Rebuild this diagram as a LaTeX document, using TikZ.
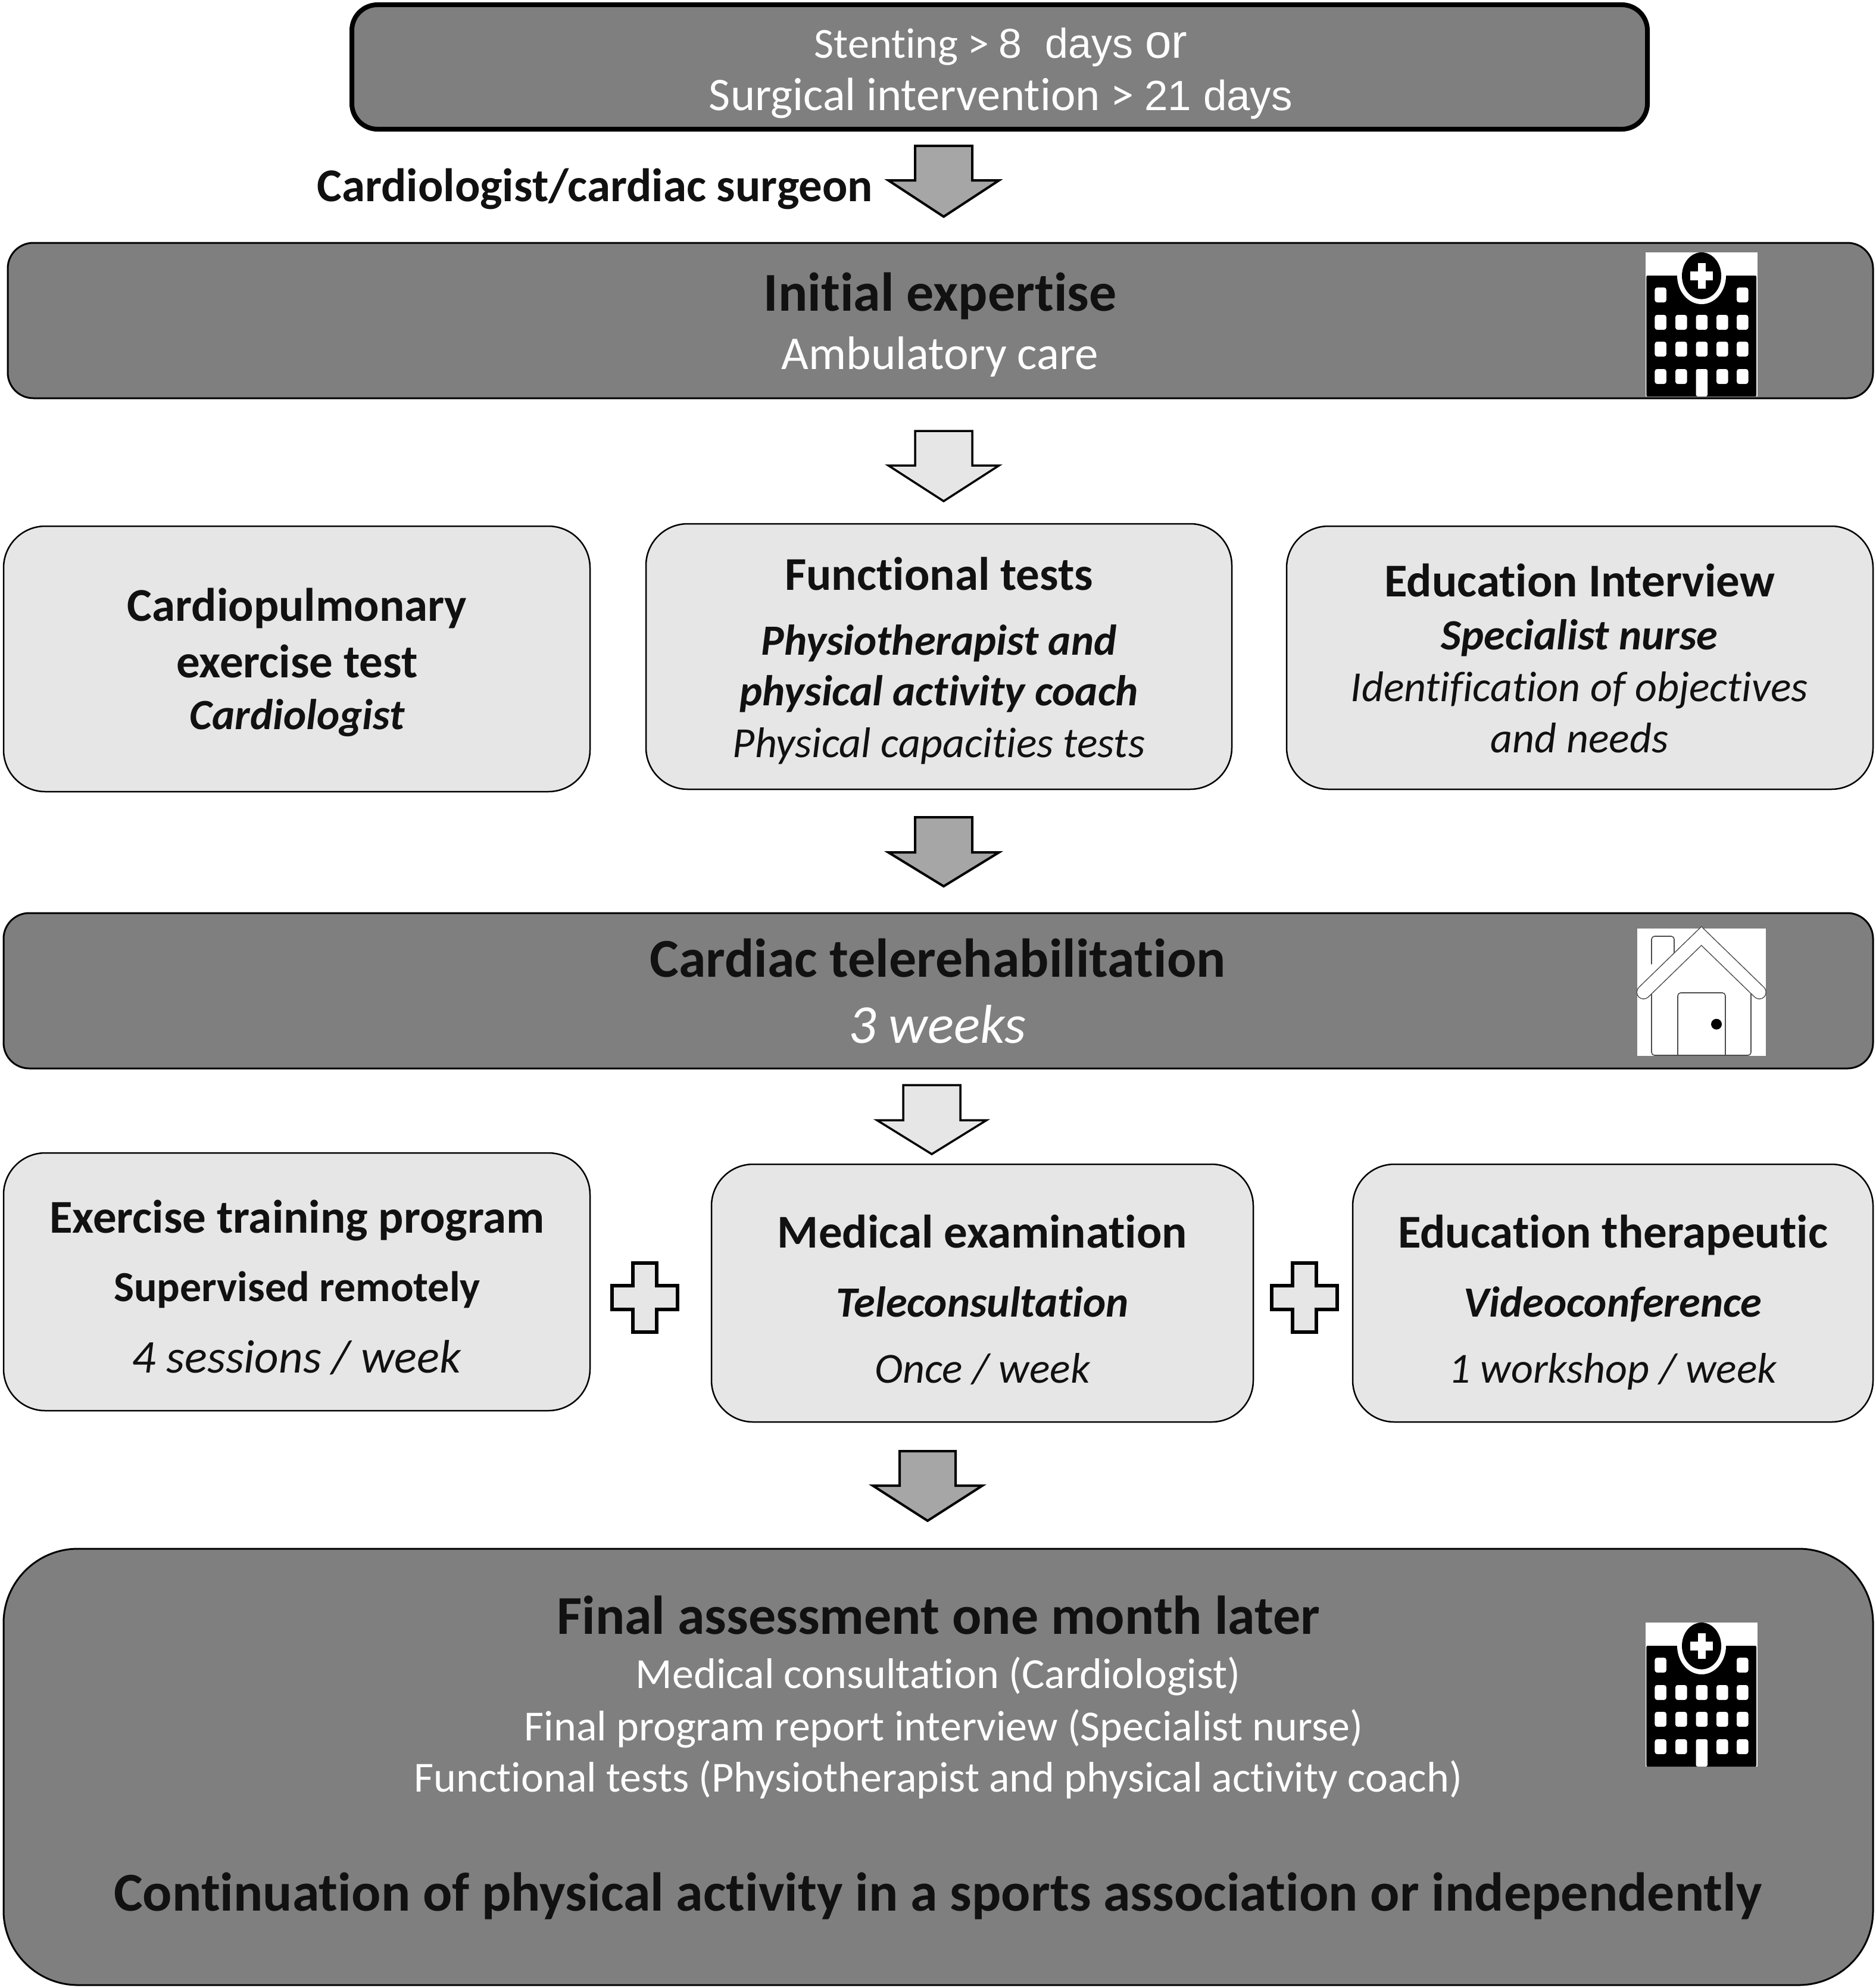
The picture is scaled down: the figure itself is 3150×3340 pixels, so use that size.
\documentclass[tikz,border=0pt]{standalone}
\usepackage{fontspec}
\setmainfont{Carlito}[Ligatures={NoCommon}]
\newfontfamily\arialf{Liberation Sans}
\definecolor{bandgray}{HTML}{7F7F7F}
\definecolor{lightgray}{HTML}{E6E6E6}
\definecolor{arrowgray}{HTML}{A6A6A6}
\definecolor{inkdark}{HTML}{111111}
\newcommand\fsz[1]{\fontsize{#1}{#1}\selectfont}
\tikzset{
  band/.style={draw=black,fill=bandgray,line width=3pt,rounded corners=43pt,inner sep=0pt,outer sep=0pt,anchor=north west},
  panel/.style={draw=black,fill=lightgray,line width=2.5pt,rounded corners=70pt,inner sep=0pt,outer sep=0pt,anchor=north west},
  darkarrow/.style={draw=black,fill=arrowgray,line width=4pt,miter limit=10},
  lightarrow/.style={draw=black,fill=lightgray,line width=3.5pt,miter limit=10},
  plussign/.style={draw=black,fill=lightgray,line width=6pt},
  txt/.style={anchor=base,inner sep=0pt,outer sep=0pt},
  head/.style={txt,text=inkdark,font=\bfseries\fsz{92}},
  mainb/.style={txt,text=inkdark,font=\bfseries\fsz{79}},
  subb/.style={txt,text=inkdark,font=\bfseries\fsz{72}},
  roleb/.style={txt,text=inkdark,font=\bfseries\itshape\fsz{72.5}},
  notei/.style={txt,text=inkdark,font=\itshape\fsz{72}},
  whitelg/.style={txt,text=white,font=\fsz{79}},
  whitemd/.style={txt,text=white,font=\fsz{72}}
}
% block arrow: style, centre x, top y, half shaft, half head, head top y, tip y
\newcommand\blockarrow[7]{\path[#1] (#2-#4,#3) -- (#2+#4,#3) -- (#2+#4,#6) -- (#2+#5,#6) -- (#2,#7) -- (#2-#5,#6) -- (#2-#4,#6) -- cycle;}
\newcommand\plusmark[2]{\path[plussign] (#1+20,#2-58) -- (#1-20,#2-58)  -- (#1-20,#2-20) -- (#1-55,#2-20) -- (#1-55,#2+20) -- (#1-20,#2+20) -- (#1-20,#2+58) -- (#1+20,#2+58) -- (#1+20,#2+20) -- (#1+55,#2+20) -- (#1+55,#2-20) -- (#1+20,#2-20) -- cycle;}
\newcommand\hospital[2]{\begin{scope}[shift={(#1,#2)}]
  \fill[white] (0,0) rectangle (188,242);
  \fill[black,rounded corners=2pt] (1.4,39) rectangle (186,242);
  \begin{scope}
    \clip (0,0) rectangle (188,242);
    \fill[white] (94,39) ellipse [x radius=41,y radius=48];
  \end{scope}
  \fill[black] (94,39.3) ellipse [x radius=33,y radius=39.3];
  \fill[white] (88,18) rectangle (101,61);
  \fill[white] (75,32) rectangle (113,47);
  \foreach \cx in {15.4,153}{\fill[white,rounded corners=4pt] (\cx,59) rectangle ++(19.5,25);}
  \foreach \ry in {105,150,196}{\foreach \cx in {15.4,50,119,153}{\fill[white,rounded corners=4pt] (\cx,\ry) rectangle ++(19.5,25);}}
  \foreach \ry in {105,150}{\fill[white,rounded corners=4pt] (84.6,\ry) rectangle ++(19.5,25);}
  \fill[white,rounded corners=3pt] (84.6,242) -- (84.6,196) -- (104,196) -- (104,242) -- cycle;
\end{scope}}
\newcommand\housemark[2]{\begin{scope}[shift={(#1,#2)}]
  \fill[white] (0,0) rectangle (216,214);
  \draw[black!70,line width=1.6pt,rounded corners=5pt] (24,60) -- (24,13) -- (62,13) -- (62,60);
  \draw[black!70,line width=1.6pt,rounded corners=5pt] (24,90) -- (24,213) -- (191,213) -- (191,90);
  \draw[black!70,line width=1.6pt,rounded corners=5pt] (68,213) -- (68,108) -- (148,108) -- (148,213);
  \fill[black] (133,160.7) circle (9);
  \draw[black!70,line width=24pt,line cap=round,line join=miter] (10.5,107) -- (107.7,12.5) -- (205,107);
  \draw[white,line width=21pt,line cap=round,line join=miter] (10.5,107) -- (107.7,12.5) -- (205,107);
\end{scope}}
\begin{document}
\begin{tikzpicture}[x=1pt,y=-1pt]
\useasboundingbox (0,0) rectangle (3150,3340);
\fill[white] (0,0) rectangle (3150,3340);
% boxes
\node[band,line width=8pt,minimum width=2176pt,minimum height=209pt] (start) at (591,8) {};
\node[band,minimum width=3133pt,minimum height=261pt] (initial) at (13,408) {};
\node[panel,minimum width=985pt,minimum height=446pt] (cpet) at (6,884) {};
\node[panel,minimum width=984pt,minimum height=446pt] (functional) at (1085,880) {};
\node[panel,minimum width=985pt,minimum height=442pt] (eduint) at (2161,884) {};
\node[band,minimum width=3140pt,minimum height=261pt] (tele) at (6,1534) {};
\node[panel,minimum width=985pt,minimum height=433pt] (exercise) at (6,1937) {};
\node[panel,minimum width=910pt,minimum height=433pt] (medical) at (1195,1956) {};
\node[panel,minimum width=874pt,minimum height=433pt] (eduther) at (2272,1956) {};
\node[band,rounded corners=125pt,minimum width=3140pt,minimum height=733pt] (final) at (6,2602) {};
% arrows
\blockarrow{darkarrow}{1585}{245}{48}{93}{303}{364}
\blockarrow{lightarrow}{1585}{724}{48}{93}{782}{842}
\blockarrow{darkarrow}{1585}{1373}{48}{93}{1432}{1489}
\blockarrow{lightarrow}{1565}{1823}{48}{92}{1882}{1939}
\blockarrow{darkarrow}{1558}{2438}{47}{92}{2496}{2555}
% plus
\plusmark{1083}{2180}
\plusmark{2191}{2180}
% icons
\hospital{2764}{424}
\housemark{2750}{1560}
\hospital{2764}{2726}
% texts
\node[txt,text=white] (t1) at (1681,98) {\fsz{72}Stenting > \arialf\fsz{70}8\ \ days \fsz{80}or};
\node[txt,text=white] (t2) at (1681,185) {\fsz{78.5}Surgical intervention > \arialf\fsz{71}21 days};
\node[mainb,anchor=base east] (role) at (1466,338) {Cardiologist/cardiac surgeon};
\node[head] (t3) at (1579,522) {Initial expertise};
\node[whitelg] (t4) at (1579,620) {Ambulatory care};
\node[mainb] (t5) at (499,1043) {Cardiopulmonary};
\node[mainb] (t6) at (499,1138) {exercise test};
\node[roleb] (t7) at (499,1225) {Cardiologist};
\node[mainb] (t8) at (1577,991) {Functional tests};
\node[roleb] (t9) at (1577,1100) {Physiotherapist and};
\node[roleb] (t10) at (1577,1185) {physical activity coach};
\node[notei] (t11) at (1577,1272) {Physical capacities tests};
\node[mainb] (t12) at (2653,1002) {Education Interview};
\node[roleb] (t13) at (2653,1091) {Specialist nurse};
\node[notei] (t14) at (2653,1178) {Identification of objectives};
\node[notei] (t15) at (2653,1264) {and needs};
\node[head] (t16) at (1575,1641) {Cardiac telerehabilitation};
\node[txt,text=white,font=\itshape\fsz{92}] (t17) at (1574,1752) {3 weeks};
\node[mainb] (t18) at (499,2071) {Exercise training program};
\node[subb] (t19) at (499,2186) {Supervised remotely};
\node[notei,font=\itshape\fsz{79}] (t20) at (498,2306) {4 sessions / week};
\node[mainb] (t21) at (1650,2096) {Medical examination};
\node[roleb] (t22) at (1650,2212) {Teleconsultation};
\node[notei] (t23) at (1650,2323) {Once / week};
\node[mainb] (t24) at (2709,2096) {Education therapeutic};
\node[roleb] (t25) at (2709,2212) {Videoconference};
\node[notei] (t26) at (2709,2323) {1 workshop / week};
\node[head] (t27) at (1576,2745) {Final assessment one month later};
\node[whitemd] (t28) at (1576,2836) {Medical consultation (Cardiologist)};
\node[whitemd] (t29) at (1585,2924) {Final program report interview (Specialist nurse)};
\node[whitemd] (t30) at (1576,3010) {Functional tests (Physiotherapist and physical activity coach)};
\node[head] (t31) at (1575,3210) {Continuation of physical activity in a sports association or independently};
\end{tikzpicture}
\end{document}
